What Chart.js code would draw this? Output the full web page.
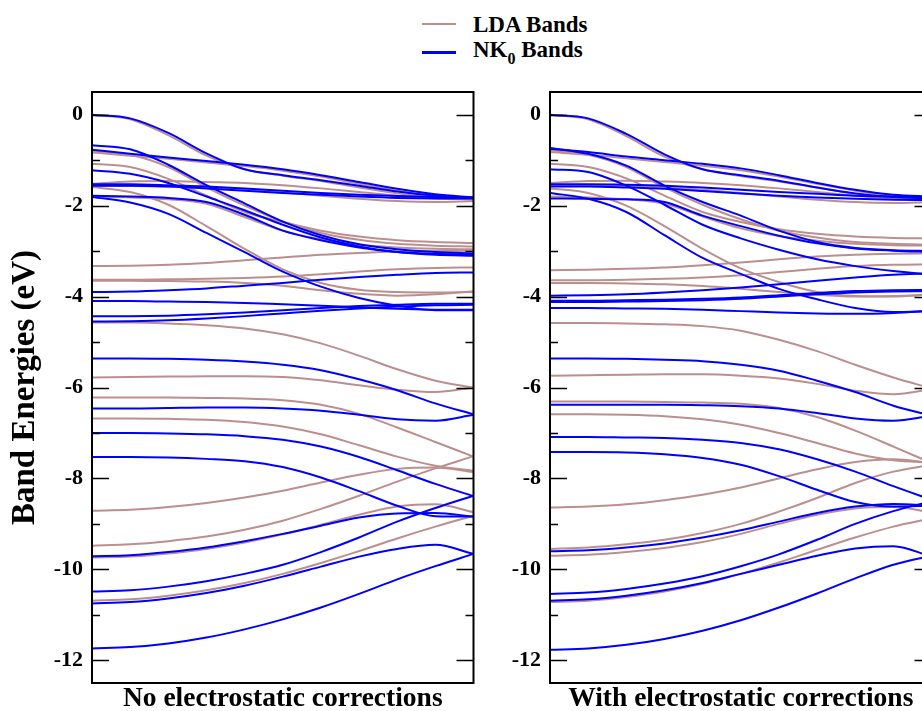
<!DOCTYPE html>
<html>
<head>
<meta charset="utf-8">
<script src="https://cdn.jsdelivr.net/npm/chart.js@4.4.1/dist/chart.umd.min.js"></script>
<style>
    html, body { margin: 0; padding: 0; background: #fff; overflow: hidden; }
    #fig { position: relative; width: 922px; height: 711px; overflow: hidden; background: #fff; }
    #leftPanel { position: absolute; left: 0; top: 0; }
    #rightPanel { position: absolute; left: 480px; top: 0; }
    .key { position: absolute; left: 473px; font: bold 23px "Liberation Serif", "Times New Roman", serif; line-height: 23px; color: #000; white-space: nowrap; }
    .key sub { font-size: 16px; vertical-align: baseline; position: relative; top: 7px; line-height: 0; }
    .swatch { position: absolute; left: 422px; width: 34px; height: 2.5px; }
</style>
</head>
<body>
<div id="fig">
    <div class="swatch" style="top:22.5px; background:#bc8f8f;"></div>
    <div class="key" style="top:13px;">LDA Bands</div>
    <div class="swatch" style="top:51px; background:#0000ff;"></div>
    <div class="key" style="top:38px;">NK<sub>0</sub> Bands</div>
    <canvas id="leftPanel" width="480" height="711"></canvas>
    <canvas id="rightPanel" width="460" height="711"></canvas>
</div>
<script>
// --- datos ---
const kPath = [0, 0.1, 0.2, 0.3, 0.4, 0.5, 0.6, 0.7, 0.8, 0.9, 1.0];
const yTicks = [0, -2, -4, -6, -8, -10, -12];
const yMinor = [-1, -3, -5, -7, -9, -11];

// panel izquierdo: sin correcciones
const nk0NoCorr = [
    [0, -0.08, -0.4, -0.85, -1.2, -1.33, -1.44, -1.56, -1.69, -1.78, -1.82],
    [-0.77, -0.86, -0.94, -1.02, -1.1, -1.2, -1.33, -1.48, -1.63, -1.75, -1.82],
    [-0.67, -0.76, -1.1, -1.55, -1.95, -2.35, -2.65, -2.85, -2.96, -3.02, -3.05],
    [-1.22, -1.3, -1.5, -1.8, -2.1, -2.42, -2.7, -2.9, -3.02, -3.08, -3.1],
    [-1.53, -1.53, -1.55, -1.58, -1.62, -1.67, -1.72, -1.76, -1.79, -1.81, -1.82],
    [-1.56, -1.56, -1.58, -1.62, -1.67, -1.72, -1.76, -1.8, -1.83, -1.84, -1.84],
    [-1.78, -1.8, -1.83, -1.92, -2.2, -2.55, -2.76, -2.92, -3.02, -3.06, -3.08],
    [-1.81, -1.93, -2.18, -2.6, -3.02, -3.45, -3.78, -4.03, -4.2, -4.3, -4.3],
    [-3.9, -3.89, -3.86, -3.82, -3.76, -3.7, -3.63, -3.57, -3.52, -3.48, -3.47],
    [-4.1, -4.1, -4.11, -4.12, -4.14, -4.17, -4.2, -4.24, -4.27, -4.29, -4.29],
    [-4.43, -4.43, -4.42, -4.39, -4.35, -4.3, -4.25, -4.21, -4.18, -4.16, -4.16],
    [-4.55, -4.54, -4.52, -4.48, -4.43, -4.37, -4.31, -4.26, -4.22, -4.19, -4.18],
    [-5.36, -5.36, -5.37, -5.39, -5.43, -5.5, -5.62, -5.82, -6.06, -6.35, -6.59],
    [-6.46, -6.46, -6.45, -6.44, -6.44, -6.46, -6.51, -6.6, -6.7, -6.73, -6.6],
    [-7.0, -7.0, -7.01, -7.03, -7.07, -7.15, -7.3, -7.53, -7.82, -8.12, -8.39],
    [-7.53, -7.53, -7.54, -7.57, -7.62, -7.75, -7.98, -8.28, -8.6, -8.83, -8.84],
    [-9.71, -9.69, -9.62, -9.52, -9.38, -9.22, -9.04, -8.86, -8.77, -8.76, -8.84],
    [-10.49, -10.46, -10.38, -10.26, -10.1, -9.9, -9.62, -9.3, -8.95, -8.65, -8.38],
    [-10.75, -10.72, -10.64, -10.52, -10.36, -10.16, -9.94, -9.72, -9.55, -9.46, -9.66],
    [-11.74, -11.71, -11.63, -11.5, -11.32, -11.1, -10.84, -10.54, -10.22, -9.93, -9.66]
];
const ldaNoCorr = [
    [0, -0.1, -0.45, -0.9, -1.2, -1.34, -1.46, -1.6, -1.73, -1.82, -1.86],
    [-0.8, -0.88, -1.15, -1.6, -2.0, -2.35, -2.6, -2.75, -2.84, -2.88, -2.9],
    [-0.83, -0.9, -0.97, -1.05, -1.13, -1.23, -1.36, -1.52, -1.67, -1.79, -1.86],
    [-1.08, -1.15, -1.41, -1.78, -2.14, -2.36, -2.55, -2.68, -2.76, -2.8, -2.82],
    [-1.52, -1.47, -1.46, -1.48, -1.5, -1.55, -1.62, -1.7, -1.78, -1.84, -1.86],
    [-1.57, -1.57, -1.58, -1.6, -1.65, -1.71, -1.78, -1.85, -1.9, -1.92, -1.9],
    [-1.59, -1.7, -1.98, -2.45, -2.95, -3.4, -3.7, -3.85, -3.9, -3.91, -3.9],
    [-1.8, -1.82, -1.86, -1.96, -2.25, -2.55, -2.74, -2.86, -2.92, -2.95, -2.96],
    [-3.33, -3.32, -3.3, -3.26, -3.2, -3.14, -3.08, -3.04, -3.01, -3.0, -2.99],
    [-3.63, -3.63, -3.62, -3.61, -3.59, -3.56, -3.51, -3.45, -3.4, -3.37, -3.36],
    [-3.65, -3.65, -3.66, -3.67, -3.7, -3.76, -3.86, -3.94, -3.98, -3.95, -3.88],
    [-4.57, -4.57, -4.59, -4.63, -4.7, -4.83, -5.03, -5.3, -5.6, -5.85, -6.0],
    [-5.78, -5.77, -5.76, -5.75, -5.75, -5.77, -5.84, -5.95, -6.05, -6.1, -6.0],
    [-6.22, -6.22, -6.22, -6.23, -6.24, -6.28, -6.38, -6.58, -6.88, -7.2, -7.52],
    [-6.68, -6.68, -6.69, -6.71, -6.76, -6.86, -7.03, -7.27, -7.52, -7.72, -7.83],
    [-8.71, -8.69, -8.63, -8.54, -8.42, -8.27, -8.09, -7.92, -7.79, -7.76, -7.86],
    [-9.48, -9.45, -9.38, -9.28, -9.13, -8.93, -8.67, -8.38, -8.07, -7.78, -7.51],
    [-9.74, -9.72, -9.65, -9.55, -9.41, -9.23, -9.02, -8.8, -8.62, -8.57, -8.74],
    [-10.69, -10.66, -10.58, -10.46, -10.3, -10.1, -9.86, -9.6, -9.32, -9.06, -8.82]
];

// panel derecho: con correcciones electrostaticas
const nk0Corr = [
    [0, -0.08, -0.42, -0.87, -1.2, -1.33, -1.45, -1.6, -1.73, -1.81, -1.84],
    [-0.75, -0.82, -0.92, -1.0, -1.08, -1.18, -1.33, -1.5, -1.65, -1.76, -1.8],
    [-0.73, -0.86, -1.12, -1.56, -1.92, -2.22, -2.55, -2.8, -2.93, -2.98, -3.0],
    [-1.2, -1.26, -1.56, -1.98, -2.42, -2.72, -2.97, -3.18, -3.33, -3.44, -3.52],
    [-1.53, -1.53, -1.54, -1.56, -1.6, -1.65, -1.7, -1.74, -1.78, -1.8, -1.81],
    [-1.58, -1.58, -1.6, -1.63, -1.68, -1.73, -1.78, -1.82, -1.85, -1.87, -1.88],
    [-1.84, -1.85, -1.86, -1.92, -2.22, -2.45, -2.66, -2.83, -2.94, -2.99, -3.02],
    [-1.72, -1.85, -2.14, -2.65, -3.15, -3.5, -3.83, -4.06, -4.25, -4.34, -4.32],
    [-3.98, -3.97, -3.95, -3.91, -3.86, -3.8, -3.73, -3.65, -3.58, -3.52, -3.49],
    [-4.09, -4.09, -4.08, -4.07, -4.05, -4.02, -3.97, -3.92, -3.88, -3.86, -3.85],
    [-4.12, -4.12, -4.11, -4.1, -4.08, -4.05, -4.0, -3.95, -3.91, -3.89, -3.88],
    [-4.25, -4.25, -4.26, -4.27, -4.29, -4.32, -4.35, -4.37, -4.38, -4.36, -4.31],
    [-5.36, -5.36, -5.37, -5.39, -5.42, -5.5, -5.63, -5.85, -6.1, -6.4, -6.62],
    [-6.38, -6.38, -6.38, -6.38, -6.39, -6.41, -6.46, -6.56, -6.68, -6.73, -6.62],
    [-7.09, -7.09, -7.1, -7.11, -7.15, -7.22, -7.36, -7.58, -7.85, -8.17, -8.47],
    [-7.42, -7.42, -7.43, -7.47, -7.55, -7.7, -7.95, -8.25, -8.52, -8.62, -8.6],
    [-9.6, -9.58, -9.52, -9.43, -9.3, -9.14, -8.95, -8.76, -8.62, -8.56, -8.6],
    [-10.54, -10.51, -10.43, -10.31, -10.15, -9.93, -9.67, -9.35, -9.0, -8.72, -8.5],
    [-10.69, -10.66, -10.58, -10.46, -10.3, -10.1, -9.9, -9.7, -9.54, -9.49, -9.72],
    [-11.77, -11.74, -11.66, -11.53, -11.35, -11.12, -10.84, -10.53, -10.2, -9.9, -9.7]
];
const ldaCorr = [
    [0, -0.1, -0.47, -0.92, -1.2, -1.35, -1.47, -1.6, -1.74, -1.83, -1.87],
    [-0.78, -0.88, -1.15, -1.6, -1.98, -2.3, -2.55, -2.7, -2.8, -2.84, -2.86],
    [-0.82, -0.88, -0.96, -1.04, -1.12, -1.22, -1.36, -1.52, -1.67, -1.8, -1.87],
    [-1.08, -1.15, -1.4, -1.78, -2.14, -2.36, -2.52, -2.62, -2.68, -2.71, -2.72],
    [-1.5, -1.46, -1.45, -1.47, -1.5, -1.55, -1.62, -1.7, -1.78, -1.84, -1.88],
    [-1.56, -1.56, -1.57, -1.6, -1.65, -1.72, -1.8, -1.87, -1.92, -1.94, -1.92],
    [-1.62, -1.72, -2.0, -2.45, -2.95, -3.38, -3.68, -3.9, -3.99, -4.0, -3.95],
    [-1.8, -1.82, -1.86, -1.96, -2.24, -2.5, -2.67, -2.77, -2.84, -2.87, -2.88],
    [-3.42, -3.41, -3.39, -3.36, -3.31, -3.25, -3.18, -3.12, -3.08, -3.06, -3.05],
    [-3.64, -3.64, -3.63, -3.61, -3.58, -3.53, -3.46, -3.39, -3.33, -3.3, -3.29],
    [-3.7, -3.7, -3.71, -3.73, -3.77, -3.83, -3.9, -3.96, -4.0, -3.99, -3.95],
    [-4.58, -4.58, -4.59, -4.61, -4.65, -4.75, -4.95, -5.2, -5.5, -5.78, -6.02],
    [-5.74, -5.73, -5.72, -5.71, -5.71, -5.74, -5.8, -5.92, -6.07, -6.15, -6.04],
    [-6.31, -6.31, -6.31, -6.32, -6.33, -6.36, -6.45, -6.65, -6.95, -7.3, -7.66],
    [-6.59, -6.59, -6.6, -6.63, -6.7, -6.82, -7.0, -7.22, -7.45, -7.6, -7.65],
    [-8.64, -8.62, -8.57, -8.48, -8.36, -8.2, -8.0, -7.8, -7.64, -7.58, -7.66],
    [-9.55, -9.52, -9.45, -9.35, -9.2, -9.0, -8.73, -8.43, -8.1, -7.85, -7.7],
    [-9.7, -9.68, -9.62, -9.53, -9.4, -9.22, -9.0, -8.8, -8.66, -8.63, -8.75],
    [-10.72, -10.69, -10.61, -10.49, -10.32, -10.1, -9.85, -9.57, -9.3, -9.06, -8.88]
];

const serif = '"Liberation Serif", "Times New Roman", serif';
const ldaColor = '#bc8f8f';
const nkColor = '#0000ff';

// marco y marcas hacia adentro en ambos lados
const framePlugin = {
    id: 'frame',
    afterDatasetsDraw(chart) {
        const { ctx, chartArea: a, scales: { y } } = chart;
        ctx.save();
        ctx.strokeStyle = '#000';
        ctx.lineWidth = 1.5;
        ctx.beginPath();
        const mark = (v, len) => {
            const py = Math.round(y.getPixelForValue(v)) + 0.5;
            ctx.moveTo(a.left, py); ctx.lineTo(a.left + len, py);
            ctx.moveTo(a.right - len, py); ctx.lineTo(a.right, py);
        };
        yTicks.forEach(v => mark(v, 17));
        yMinor.forEach(v => mark(v, 8));
        ctx.stroke();
        ctx.lineWidth = 2;
        ctx.strokeRect(a.left, a.top, a.right - a.left, a.bottom - a.top);
        ctx.restore();
    }
};

function bandSets(bands, color, order) {
    return bands.map(b => ({
        data: b.map((v, i) => ({ x: kPath[i], y: v })),
        borderColor: color,
        borderWidth: 2,
        pointRadius: 0,
        fill: false,
        cubicInterpolationMode: 'monotone',
        order: order
    }));
}

function crearPanel(canvasId, nk, lda, xTitle, conTitulo, yWidth, padRight) {
    return new Chart(document.getElementById(canvasId), {
        type: 'line',
        data: { datasets: [...bandSets(nk, nkColor, 0), ...bandSets(lda, ldaColor, 1)] },
        options: {
            responsive: false,
            animation: false,
            events: [],
            layout: { padding: { left: 0, right: padRight, top: 92, bottom: 0 } },
            plugins: { legend: { display: false }, tooltip: { enabled: false } },
            scales: {
                x: {
                    type: 'linear', min: 0, max: 1,
                    grid: { display: false, drawTicks: false }, border: { display: false },
                    ticks: { display: false },
                    title: {
                        display: true, text: xTitle, color: '#000',
                        font: { family: serif, size: 27.5, weight: 'bold', lineHeight: 1 },
                        padding: { top: 0, bottom: -2 }
                    },
                    afterFit: s => { s.height = 28; }
                },
                y: {
                    type: 'linear', min: -12.5, max: 0.5,
                    grid: { display: false, drawTicks: false }, border: { display: false },
                    afterBuildTicks: s => { s.ticks = yTicks.map(v => ({ value: v })); },
                    ticks: {
                        color: '#000', padding: 9, autoSkip: false,
                        font: { family: serif, size: 22, weight: 'bold' },
                        callback: v => String(v)
                    },
                    title: {
                        display: conTitulo, text: 'Band Energies (eV)', color: '#000',
                        font: { family: serif, size: 33, weight: 'bold', lineHeight: 1 },
                        padding: { top: 9, bottom: 0 }
                    },
                    afterFit: s => { s.width = yWidth; }
                }
            }
        },
        plugins: [framePlugin]
    });
}

crearPanel('leftPanel', nk0NoCorr, ldaNoCorr, 'No electrostatic corrections', true, 92, 6.5);
crearPanel('rightPanel', nk0Corr, ldaCorr, 'With electrostatic corrections', false, 70, 8.5);
</script>
</body>
</html>
